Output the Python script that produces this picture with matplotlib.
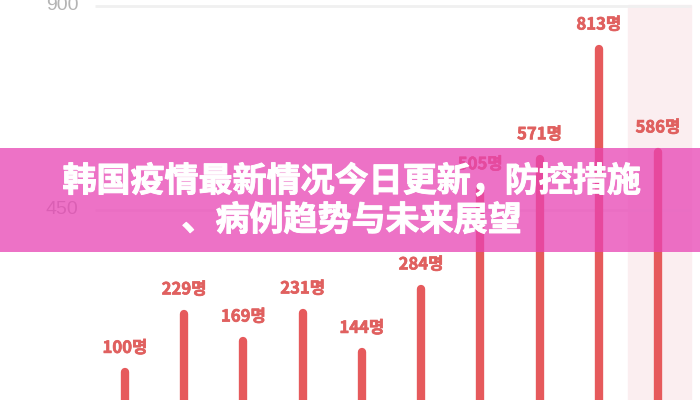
import matplotlib
matplotlib.use("Agg")
import matplotlib.pyplot as plt
import matplotlib.patheffects as pe
from matplotlib.patches import Rectangle

# daily new cases (last bar is today, highlighted)
values = [100, 229, 169, 231, 144, 284, 505, 571, 813, 586]
labels = [f"{v}명" for v in values]
yticks = [450, 900]
title_lines = ["韩国疫情最新情况今日更新，防控措施", "、病例趋势与未来展望"]

BAR_RED = "#e65a5c"
LABEL_RED = "#e0605f"

fig = plt.figure(figsize=(7, 4), dpi=100)
ax = fig.add_axes([0, 0, 1, 1])
ax.set_xlim(-2.11, 9.71)
ax.set_ylim(31, 913)
ax.axis("off")

# today highlight
ax.axvspan(8.5, 9.55, ymin=0, ymax=(902 - 31) / (913 - 31), color="#fbeef0", zorder=0)

# gridlines + y labels
ax.hlines(yticks, -0.5, 9.55, color="#f0f0f0", lw=2, zorder=1)
for t in yticks:
    ax.text(-1.06, t, str(t), ha="center", va="center", fontsize=14,
            color="#b4b4b4", family="Liberation Sans", zorder=2)

# bars as thick rounded lines
xs = range(len(values))
for x, v, lab in zip(xs, values, labels):
    ax.plot([x, x], [0, v - 8], color=BAR_RED, lw=6, solid_capstyle="round", zorder=3)
    ax.annotate(lab, (x, v), xytext=(0, 15), textcoords="offset points",
                ha="center", va="center", fontsize=12, fontweight="bold",
                color=LABEL_RED, family=["Noto Sans CJK KR", "DejaVu Sans"], zorder=4,
                path_effects=[pe.withStroke(linewidth=0.5, foreground=LABEL_RED)])

# pink title banner over the chart
fig.add_artist(Rectangle((0, 1 - 252 / 400), 1, 104 / 400, transform=fig.transFigure,
                         facecolor="#e843b4", alpha=0.75, edgecolor="none", zorder=10))
heavy = [pe.withStroke(linewidth=0.7, foreground="white")]
fig.text(0.502, 1 - 181 / 400, title_lines[0], ha="center", va="center", fontsize=24.5,
         fontweight="heavy", color="white", family=["Noto Sans CJK SC", "DejaVu Sans"],
         zorder=11, path_effects=heavy)
fig.text(0.502, 1 - 220 / 400, title_lines[1], ha="center", va="center", fontsize=24.5,
         fontweight="heavy", color="white", family=["Noto Sans CJK SC", "DejaVu Sans"],
         zorder=11, path_effects=heavy)

fig.savefig("out.png", dpi=100)
